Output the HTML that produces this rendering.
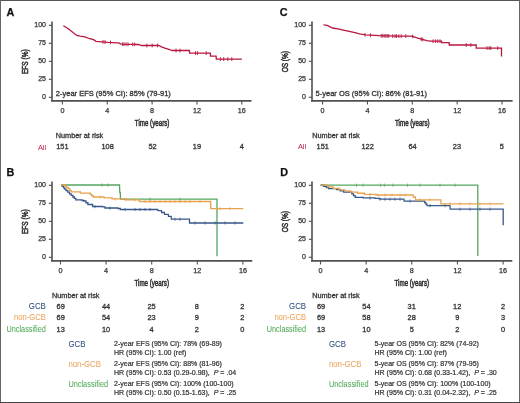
<!DOCTYPE html>
<html><head><meta charset="utf-8"><style>
html,body{margin:0;padding:0;background:#fff;}
body{width:520px;height:403px;overflow:hidden;position:relative;}
svg{position:absolute;left:0;top:0;font-family:"Liberation Sans", sans-serif;will-change:transform;filter:blur(0.25px);}
</style></head><body>
<svg width="520" height="403" viewBox="0 0 520 403">
<rect x="0" y="0" width="520" height="403" fill="#fff"/>
<text x="6.50" y="15.50" font-size="10.8" fill="#111" stroke="#111" stroke-width="0.25" text-anchor="start" font-weight="bold">A</text>
<line x1="52" y1="21.5" x2="52" y2="101.6" stroke="#505050" stroke-width="1.6"/>
<line x1="48.8" y1="25.3" x2="52" y2="25.3" stroke="#505050" stroke-width="1.1"/>
<text x="46.00" y="27.40" font-size="7" fill="#333333" stroke="#333333" stroke-width="0.25" text-anchor="end">100</text>
<line x1="48.8" y1="43.3" x2="52" y2="43.3" stroke="#505050" stroke-width="1.1"/>
<text x="46.00" y="45.40" font-size="7" fill="#333333" stroke="#333333" stroke-width="0.25" text-anchor="end">75</text>
<line x1="48.8" y1="61.3" x2="52" y2="61.3" stroke="#505050" stroke-width="1.1"/>
<text x="46.00" y="63.40" font-size="7" fill="#333333" stroke="#333333" stroke-width="0.25" text-anchor="end">50</text>
<line x1="48.8" y1="79.3" x2="52" y2="79.3" stroke="#505050" stroke-width="1.1"/>
<text x="46.00" y="81.40" font-size="7" fill="#333333" stroke="#333333" stroke-width="0.25" text-anchor="end">25</text>
<line x1="48.8" y1="97.3" x2="52" y2="97.3" stroke="#505050" stroke-width="1.1"/>
<text x="46.00" y="99.40" font-size="7" fill="#333333" stroke="#333333" stroke-width="0.25" text-anchor="end">0</text>
<line x1="51.2" y1="100.9" x2="251.5" y2="100.9" stroke="#505050" stroke-width="1.6"/>
<line x1="62.4" y1="101" x2="62.4" y2="104.5" stroke="#505050" stroke-width="1.1"/>
<text x="62.40" y="113.10" font-size="7.2" fill="#333333" stroke="#333333" stroke-width="0.25" text-anchor="middle">0</text>
<line x1="107.25" y1="101" x2="107.25" y2="104.5" stroke="#505050" stroke-width="1.1"/>
<text x="107.25" y="113.10" font-size="7.2" fill="#333333" stroke="#333333" stroke-width="0.25" text-anchor="middle">4</text>
<line x1="152.1" y1="101" x2="152.1" y2="104.5" stroke="#505050" stroke-width="1.1"/>
<text x="152.10" y="113.10" font-size="7.2" fill="#333333" stroke="#333333" stroke-width="0.25" text-anchor="middle">8</text>
<line x1="196.95000000000002" y1="101" x2="196.95000000000002" y2="104.5" stroke="#505050" stroke-width="1.1"/>
<text x="196.95" y="113.10" font-size="7.2" fill="#333333" stroke="#333333" stroke-width="0.25" text-anchor="middle">12</text>
<line x1="241.8" y1="101" x2="241.8" y2="104.5" stroke="#505050" stroke-width="1.1"/>
<text x="241.80" y="113.10" font-size="7.2" fill="#333333" stroke="#333333" stroke-width="0.25" text-anchor="middle">16</text>
<text transform="translate(152.10,126.10) scale(0.72,1)" font-size="8.6" fill="#333333" stroke="#333333" stroke-width="0.55" text-anchor="middle">Time (years)</text>
<text transform="translate(28.10,61.70) rotate(-90) scale(0.74,1)" font-size="8.8" fill="#333333" stroke="#333333" stroke-width="0.55" text-anchor="middle">EFS (%)</text>
<path d="M63.30,25.80 L67.60,28.20 L70.50,30.60 L76.75,35.40 L80.10,36.20 L84.90,36.80 L89.70,38.75 L93.60,39.70 L96.00,41.30 L108.00,42.30 L118.50,42.80 L121.20,44.10 L138.60,44.50 L141.30,45.50 L158.80,45.50 L161.50,46.80 L164.90,48.20 L169.60,49.50 L172.00,50.50 L189.40,50.50 L189.60,53.10 L210.30,53.10 L210.50,56.10 L216.10,56.10 L216.30,59.10 L241.90,59.10" fill="none" stroke="#b8173f" stroke-width="1.3" stroke-linejoin="miter"/>
<path d="M103.00,39.98v3.8M105.00,40.15v3.8M110.50,40.52v3.8M122.60,42.23v3.8M124.00,42.26v3.8M126.00,42.31v3.8M128.00,42.36v3.8M132.70,42.46v3.8M134.70,42.51v3.8M146.80,43.60v3.8M152.20,43.60v3.8M157.60,43.60v3.8M176.00,48.60v3.8M180.00,48.60v3.8M195.50,51.20v3.8M197.50,51.20v3.8M206.20,51.20v3.8M220.40,57.20v3.8M223.70,57.20v3.8M227.80,57.20v3.8M231.80,57.20v3.8" fill="none" stroke="#b8173f" stroke-width="0.9" opacity="1"/>
<text x="55.80" y="137.60" font-size="7.3" fill="#333333" stroke="#333333" stroke-width="0.3" text-anchor="start">Number at risk</text>
<text x="46.20" y="149.50" font-size="7.4" fill="#c42a4e" stroke="#c42a4e" stroke-width="0.05" text-anchor="end" textLength="8.3" lengthAdjust="spacingAndGlyphs">All</text>
<text x="62.40" y="149.20" font-size="7.4" fill="#333333" stroke="#333333" stroke-width="0.3" text-anchor="middle">151</text>
<text x="107.60" y="149.20" font-size="7.4" fill="#333333" stroke="#333333" stroke-width="0.3" text-anchor="middle">108</text>
<text x="152.50" y="149.20" font-size="7.4" fill="#333333" stroke="#333333" stroke-width="0.3" text-anchor="middle">52</text>
<text x="196.90" y="149.20" font-size="7.4" fill="#333333" stroke="#333333" stroke-width="0.3" text-anchor="middle">19</text>
<text x="241.90" y="149.20" font-size="7.4" fill="#333333" stroke="#333333" stroke-width="0.3" text-anchor="middle">4</text>
<text x="279.80" y="15.50" font-size="10.8" fill="#111" stroke="#111" stroke-width="0.25" text-anchor="start" font-weight="bold">C</text>
<line x1="312" y1="21.5" x2="312" y2="101.6" stroke="#505050" stroke-width="1.6"/>
<line x1="308.8" y1="25.3" x2="312" y2="25.3" stroke="#505050" stroke-width="1.1"/>
<text x="306.00" y="27.40" font-size="7" fill="#333333" stroke="#333333" stroke-width="0.25" text-anchor="end">100</text>
<line x1="308.8" y1="43.3" x2="312" y2="43.3" stroke="#505050" stroke-width="1.1"/>
<text x="306.00" y="45.40" font-size="7" fill="#333333" stroke="#333333" stroke-width="0.25" text-anchor="end">75</text>
<line x1="308.8" y1="61.3" x2="312" y2="61.3" stroke="#505050" stroke-width="1.1"/>
<text x="306.00" y="63.40" font-size="7" fill="#333333" stroke="#333333" stroke-width="0.25" text-anchor="end">50</text>
<line x1="308.8" y1="79.3" x2="312" y2="79.3" stroke="#505050" stroke-width="1.1"/>
<text x="306.00" y="81.40" font-size="7" fill="#333333" stroke="#333333" stroke-width="0.25" text-anchor="end">25</text>
<line x1="308.8" y1="97.3" x2="312" y2="97.3" stroke="#505050" stroke-width="1.1"/>
<text x="306.00" y="99.40" font-size="7" fill="#333333" stroke="#333333" stroke-width="0.25" text-anchor="end">0</text>
<line x1="311.2" y1="100.9" x2="512.6" y2="100.9" stroke="#505050" stroke-width="1.6"/>
<line x1="322.6" y1="101" x2="322.6" y2="104.5" stroke="#505050" stroke-width="1.1"/>
<text x="322.60" y="113.10" font-size="7.2" fill="#333333" stroke="#333333" stroke-width="0.25" text-anchor="middle">0</text>
<line x1="367.45000000000005" y1="101" x2="367.45000000000005" y2="104.5" stroke="#505050" stroke-width="1.1"/>
<text x="367.45" y="113.10" font-size="7.2" fill="#333333" stroke="#333333" stroke-width="0.25" text-anchor="middle">4</text>
<line x1="412.3" y1="101" x2="412.3" y2="104.5" stroke="#505050" stroke-width="1.1"/>
<text x="412.30" y="113.10" font-size="7.2" fill="#333333" stroke="#333333" stroke-width="0.25" text-anchor="middle">8</text>
<line x1="457.15000000000003" y1="101" x2="457.15000000000003" y2="104.5" stroke="#505050" stroke-width="1.1"/>
<text x="457.15" y="113.10" font-size="7.2" fill="#333333" stroke="#333333" stroke-width="0.25" text-anchor="middle">12</text>
<line x1="502.0" y1="101" x2="502.0" y2="104.5" stroke="#505050" stroke-width="1.1"/>
<text x="502.00" y="113.10" font-size="7.2" fill="#333333" stroke="#333333" stroke-width="0.25" text-anchor="middle">16</text>
<text transform="translate(412.30,126.10) scale(0.72,1)" font-size="8.6" fill="#333333" stroke="#333333" stroke-width="0.55" text-anchor="middle">Time (years)</text>
<text transform="translate(288.10,61.70) rotate(-90) scale(0.74,1)" font-size="8.8" fill="#333333" stroke="#333333" stroke-width="0.55" text-anchor="middle">OS (%)</text>
<path d="M323.40,24.90 L327.20,25.40 L332.60,28.00 L338.00,28.80 L345.70,30.60 L355.00,32.60 L359.50,33.80 L365.70,34.90 L379.50,35.70 L398.00,36.20 L411.90,36.10 L417.70,38.20 L427.00,40.70 L430.40,41.20 L441.50,41.20 L441.50,42.70 L449.20,42.70 L449.20,45.00 L476.20,45.00 L476.20,48.10 L501.50,48.10 L501.50,56.50" fill="none" stroke="#b8173f" stroke-width="1.3" stroke-linejoin="miter"/>
<path d="M365.00,32.88v3.8M370.40,33.27v3.8M381.20,33.85v3.8M382.70,33.89v3.8M384.20,33.93v3.8M385.80,33.97v3.8M387.30,34.01v3.8M388.80,34.05v3.8M392.70,34.16v3.8M395.00,34.22v3.8M396.50,34.26v3.8M398.80,34.29v3.8M401.20,34.28v3.8M405.80,34.24v3.8M412.70,34.49v3.8M421.20,37.24v3.8M422.70,37.64v3.8M433.00,39.30v3.8M435.40,39.30v3.8M437.70,39.30v3.8M440.00,39.30v3.8M466.20,43.10v3.8M470.80,43.10v3.8M487.00,46.20v3.8M489.20,46.20v3.8M490.80,46.20v3.8M497.70,46.20v3.8" fill="none" stroke="#b8173f" stroke-width="0.9" opacity="1"/>
<text x="312.30" y="137.60" font-size="7.3" fill="#333333" stroke="#333333" stroke-width="0.3" text-anchor="start">Number at risk</text>
<text x="306.20" y="149.30" font-size="7.4" fill="#c42a4e" stroke="#c42a4e" stroke-width="0.05" text-anchor="end" textLength="8.3" lengthAdjust="spacingAndGlyphs">All</text>
<text x="322.70" y="149.00" font-size="7.4" fill="#333333" stroke="#333333" stroke-width="0.3" text-anchor="middle">151</text>
<text x="367.60" y="149.00" font-size="7.4" fill="#333333" stroke="#333333" stroke-width="0.3" text-anchor="middle">122</text>
<text x="412.50" y="149.00" font-size="7.4" fill="#333333" stroke="#333333" stroke-width="0.3" text-anchor="middle">64</text>
<text x="456.90" y="149.00" font-size="7.4" fill="#333333" stroke="#333333" stroke-width="0.3" text-anchor="middle">23</text>
<text x="501.90" y="149.00" font-size="7.4" fill="#333333" stroke="#333333" stroke-width="0.3" text-anchor="middle">5</text>
<text x="6.50" y="175.50" font-size="10.8" fill="#111" stroke="#111" stroke-width="0.25" text-anchor="start" font-weight="bold">B</text>
<line x1="52" y1="181.5" x2="52" y2="261.6" stroke="#505050" stroke-width="1.6"/>
<line x1="48.8" y1="185.3" x2="52" y2="185.3" stroke="#505050" stroke-width="1.1"/>
<text x="46.00" y="187.40" font-size="7" fill="#333333" stroke="#333333" stroke-width="0.25" text-anchor="end">100</text>
<line x1="48.8" y1="203.3" x2="52" y2="203.3" stroke="#505050" stroke-width="1.1"/>
<text x="46.00" y="205.40" font-size="7" fill="#333333" stroke="#333333" stroke-width="0.25" text-anchor="end">75</text>
<line x1="48.8" y1="221.3" x2="52" y2="221.3" stroke="#505050" stroke-width="1.1"/>
<text x="46.00" y="223.40" font-size="7" fill="#333333" stroke="#333333" stroke-width="0.25" text-anchor="end">50</text>
<line x1="48.8" y1="239.3" x2="52" y2="239.3" stroke="#505050" stroke-width="1.1"/>
<text x="46.00" y="241.40" font-size="7" fill="#333333" stroke="#333333" stroke-width="0.25" text-anchor="end">25</text>
<line x1="48.8" y1="257.3" x2="52" y2="257.3" stroke="#505050" stroke-width="1.1"/>
<text x="46.00" y="259.40" font-size="7" fill="#333333" stroke="#333333" stroke-width="0.25" text-anchor="end">0</text>
<line x1="51.2" y1="260.9" x2="252.3" y2="260.9" stroke="#505050" stroke-width="1.6"/>
<line x1="60.5" y1="261" x2="60.5" y2="264.5" stroke="#505050" stroke-width="1.1"/>
<text x="60.50" y="273.10" font-size="7.2" fill="#333333" stroke="#333333" stroke-width="0.25" text-anchor="middle">0</text>
<line x1="106.1" y1="261" x2="106.1" y2="264.5" stroke="#505050" stroke-width="1.1"/>
<text x="106.10" y="273.10" font-size="7.2" fill="#333333" stroke="#333333" stroke-width="0.25" text-anchor="middle">4</text>
<line x1="151.7" y1="261" x2="151.7" y2="264.5" stroke="#505050" stroke-width="1.1"/>
<text x="151.70" y="273.10" font-size="7.2" fill="#333333" stroke="#333333" stroke-width="0.25" text-anchor="middle">8</text>
<line x1="197.3" y1="261" x2="197.3" y2="264.5" stroke="#505050" stroke-width="1.1"/>
<text x="197.30" y="273.10" font-size="7.2" fill="#333333" stroke="#333333" stroke-width="0.25" text-anchor="middle">12</text>
<line x1="242.9" y1="261" x2="242.9" y2="264.5" stroke="#505050" stroke-width="1.1"/>
<text x="242.90" y="273.10" font-size="7.2" fill="#333333" stroke="#333333" stroke-width="0.25" text-anchor="middle">16</text>
<text transform="translate(151.70,286.10) scale(0.72,1)" font-size="8.6" fill="#333333" stroke="#333333" stroke-width="0.55" text-anchor="middle">Time (years)</text>
<text transform="translate(28.10,221.70) rotate(-90) scale(0.74,1)" font-size="8.8" fill="#333333" stroke="#333333" stroke-width="0.55" text-anchor="middle">EFS (%)</text>
<path d="M61.00,185.00 L119.50,185.00 L119.80,192.60 L120.30,192.60 L120.50,199.20 L217.00,199.20 L217.00,256.20" fill="none" stroke="#55a65e" stroke-width="1.3" stroke-linejoin="miter"/>
<path d="M102.00,183.40v3.2M108.00,183.40v3.2M150.00,197.60v3.2M180.00,197.60v3.2" fill="none" stroke="#55a65e" stroke-width="0.8" opacity="0.9"/>
<path d="M61.00,185.00 L62.25,185.00 L62.25,186.40 L63.50,186.40 L63.50,187.80 L64.75,187.80 L64.75,189.20 L66.00,189.20 L66.00,190.60 L67.72,190.60 L67.72,192.20 L69.45,192.20 L69.45,193.80 L71.18,193.80 L71.18,195.40 L72.90,195.40 L72.90,197.00 L74.35,197.00 L74.35,198.40 L75.80,198.40 L75.80,199.80 L82.10,199.80 L82.10,200.50 L84.00,200.50 L84.00,201.00 L85.95,201.00 L85.95,202.75 L87.90,202.75 L87.90,204.50 L92.60,204.50 L92.60,206.50 L102.60,206.50 L102.60,206.90 L105.00,206.90 L105.00,208.00 L118.00,208.00 L118.00,208.50 L120.30,208.50 L120.30,209.50 L157.70,209.50 L158.00,210.60 L161.50,210.60 L161.70,212.50 L164.40,212.50 L164.60,214.40 L168.30,214.40 L168.50,216.30 L171.20,216.30 L171.40,219.20 L189.40,219.20 L189.60,223.00 L243.30,223.00" fill="none" stroke="#375789" stroke-width="1.3" stroke-linejoin="miter"/>
<path d="M95.00,205.00v3.2M110.00,206.59v3.2M125.00,207.90v3.2M135.00,207.90v3.2M140.00,207.90v3.2M145.00,207.90v3.2M150.00,207.90v3.2M175.00,217.60v3.2M180.00,217.60v3.2M195.00,221.40v3.2M205.00,221.40v3.2M215.00,221.40v3.2M225.00,221.40v3.2M235.00,221.40v3.2" fill="none" stroke="#375789" stroke-width="0.8" opacity="0.9"/>
<path d="M61.00,185.00 L63.80,185.00 L65.30,185.00 L65.30,186.30 L66.80,186.30 L66.80,187.60 L68.30,187.60 L68.30,188.90 L69.75,188.90 L69.75,190.35 L71.20,190.35 L71.20,191.80 L79.30,191.80 L80.40,191.80 L80.40,193.20 L88.50,193.20 L90.20,193.20 L90.20,194.30 L91.65,194.30 L91.65,195.65 L93.10,195.65 L93.10,197.00 L102.90,197.00 L104.10,197.00 L104.10,197.90 L111.60,197.90 L112.10,197.90 L112.10,198.90 L126.00,198.90 L126.00,199.80 L139.20,199.90 L139.40,201.50 L210.60,201.50 L210.80,208.70 L243.30,208.70" fill="none" stroke="#e8a24e" stroke-width="1.3" stroke-linejoin="miter"/>
<path d="M100.00,195.40v3.2M115.00,197.49v3.2M125.00,198.14v3.2M135.00,198.27v3.2M145.00,199.90v3.2M150.00,199.90v3.2M155.00,199.90v3.2M160.00,199.90v3.2M165.00,199.90v3.2M170.00,199.90v3.2M175.00,199.90v3.2M180.00,199.90v3.2M185.00,199.90v3.2M190.00,199.90v3.2M200.00,199.90v3.2M220.00,207.10v3.2M230.00,207.10v3.2" fill="none" stroke="#e8a24e" stroke-width="0.8" opacity="0.9"/>
<text x="52.00" y="297.60" font-size="7.3" fill="#333333" stroke="#333333" stroke-width="0.3" text-anchor="start">Number at risk</text>
<text x="45.80" y="309.30" font-size="8.2" fill="#30507f" stroke="#30507f" stroke-width="0.05" text-anchor="end" textLength="17" lengthAdjust="spacingAndGlyphs">GCB</text>
<text x="60.70" y="309.30" font-size="7.4" fill="#333333" stroke="#333333" stroke-width="0.3" text-anchor="middle">69</text>
<text x="106.00" y="309.30" font-size="7.4" fill="#333333" stroke="#333333" stroke-width="0.3" text-anchor="middle">44</text>
<text x="151.60" y="309.30" font-size="7.4" fill="#333333" stroke="#333333" stroke-width="0.3" text-anchor="middle">25</text>
<text x="196.70" y="309.30" font-size="7.4" fill="#333333" stroke="#333333" stroke-width="0.3" text-anchor="middle">8</text>
<text x="242.30" y="309.30" font-size="7.4" fill="#333333" stroke="#333333" stroke-width="0.3" text-anchor="middle">2</text>
<text x="45.80" y="320.40" font-size="8.2" fill="#eba55e" stroke="#eba55e" stroke-width="0.05" text-anchor="end" textLength="31.7" lengthAdjust="spacingAndGlyphs">non-GCB</text>
<text x="60.70" y="320.40" font-size="7.4" fill="#333333" stroke="#333333" stroke-width="0.3" text-anchor="middle">69</text>
<text x="106.00" y="320.40" font-size="7.4" fill="#333333" stroke="#333333" stroke-width="0.3" text-anchor="middle">54</text>
<text x="151.60" y="320.40" font-size="7.4" fill="#333333" stroke="#333333" stroke-width="0.3" text-anchor="middle">23</text>
<text x="196.70" y="320.40" font-size="7.4" fill="#333333" stroke="#333333" stroke-width="0.3" text-anchor="middle">9</text>
<text x="242.30" y="320.40" font-size="7.4" fill="#333333" stroke="#333333" stroke-width="0.3" text-anchor="middle">2</text>
<text x="45.80" y="331.50" font-size="8.2" fill="#4fa957" stroke="#4fa957" stroke-width="0.05" text-anchor="end" textLength="39.3" lengthAdjust="spacingAndGlyphs">Unclassified</text>
<text x="60.70" y="331.50" font-size="7.4" fill="#333333" stroke="#333333" stroke-width="0.3" text-anchor="middle">13</text>
<text x="106.00" y="331.50" font-size="7.4" fill="#333333" stroke="#333333" stroke-width="0.3" text-anchor="middle">10</text>
<text x="151.60" y="331.50" font-size="7.4" fill="#333333" stroke="#333333" stroke-width="0.3" text-anchor="middle">4</text>
<text x="196.70" y="331.50" font-size="7.4" fill="#333333" stroke="#333333" stroke-width="0.3" text-anchor="middle">2</text>
<text x="242.30" y="331.50" font-size="7.4" fill="#333333" stroke="#333333" stroke-width="0.3" text-anchor="middle">0</text>
<text x="280.20" y="175.50" font-size="10.8" fill="#111" stroke="#111" stroke-width="0.25" text-anchor="start" font-weight="bold">D</text>
<line x1="312" y1="181.5" x2="312" y2="261.6" stroke="#505050" stroke-width="1.6"/>
<line x1="308.8" y1="185.3" x2="312" y2="185.3" stroke="#505050" stroke-width="1.1"/>
<text x="306.00" y="187.40" font-size="7" fill="#333333" stroke="#333333" stroke-width="0.25" text-anchor="end">100</text>
<line x1="308.8" y1="203.3" x2="312" y2="203.3" stroke="#505050" stroke-width="1.1"/>
<text x="306.00" y="205.40" font-size="7" fill="#333333" stroke="#333333" stroke-width="0.25" text-anchor="end">75</text>
<line x1="308.8" y1="221.3" x2="312" y2="221.3" stroke="#505050" stroke-width="1.1"/>
<text x="306.00" y="223.40" font-size="7" fill="#333333" stroke="#333333" stroke-width="0.25" text-anchor="end">50</text>
<line x1="308.8" y1="239.3" x2="312" y2="239.3" stroke="#505050" stroke-width="1.1"/>
<text x="306.00" y="241.40" font-size="7" fill="#333333" stroke="#333333" stroke-width="0.25" text-anchor="end">25</text>
<line x1="308.8" y1="257.3" x2="312" y2="257.3" stroke="#505050" stroke-width="1.1"/>
<text x="306.00" y="259.40" font-size="7" fill="#333333" stroke="#333333" stroke-width="0.25" text-anchor="end">0</text>
<line x1="311.2" y1="260.9" x2="512.3" y2="260.9" stroke="#505050" stroke-width="1.6"/>
<line x1="320.5" y1="261" x2="320.5" y2="264.5" stroke="#505050" stroke-width="1.1"/>
<text x="320.50" y="273.10" font-size="7.2" fill="#333333" stroke="#333333" stroke-width="0.25" text-anchor="middle">0</text>
<line x1="366.15" y1="261" x2="366.15" y2="264.5" stroke="#505050" stroke-width="1.1"/>
<text x="366.15" y="273.10" font-size="7.2" fill="#333333" stroke="#333333" stroke-width="0.25" text-anchor="middle">4</text>
<line x1="411.8" y1="261" x2="411.8" y2="264.5" stroke="#505050" stroke-width="1.1"/>
<text x="411.80" y="273.10" font-size="7.2" fill="#333333" stroke="#333333" stroke-width="0.25" text-anchor="middle">8</text>
<line x1="457.45" y1="261" x2="457.45" y2="264.5" stroke="#505050" stroke-width="1.1"/>
<text x="457.45" y="273.10" font-size="7.2" fill="#333333" stroke="#333333" stroke-width="0.25" text-anchor="middle">12</text>
<line x1="503.1" y1="261" x2="503.1" y2="264.5" stroke="#505050" stroke-width="1.1"/>
<text x="503.10" y="273.10" font-size="7.2" fill="#333333" stroke="#333333" stroke-width="0.25" text-anchor="middle">16</text>
<text transform="translate(411.80,286.10) scale(0.72,1)" font-size="8.6" fill="#333333" stroke="#333333" stroke-width="0.55" text-anchor="middle">Time (years)</text>
<text transform="translate(288.10,221.70) rotate(-90) scale(0.74,1)" font-size="8.8" fill="#333333" stroke="#333333" stroke-width="0.55" text-anchor="middle">OS (%)</text>
<path d="M320.60,185.20 L477.80,185.20 L477.80,256.00" fill="none" stroke="#55a65e" stroke-width="1.3" stroke-linejoin="miter"/>
<path d="M356.50,183.60v3.2M363.00,183.60v3.2M380.60,183.60v3.2M384.40,183.60v3.2M393.00,183.60v3.2M407.50,183.60v3.2M420.00,183.60v3.2M440.00,183.60v3.2M455.00,183.60v3.2" fill="none" stroke="#55a65e" stroke-width="0.8" opacity="0.9"/>
<path d="M320.60,185.20 L323.50,185.20 L323.50,186.35 L326.40,186.35 L326.40,187.50 L328.70,187.50 L328.70,188.70 L336.80,188.70 L336.80,189.50 L340.25,189.50 L340.25,190.80 L343.70,190.80 L343.70,192.10 L351.80,192.10 L351.80,193.80 L353.50,193.80 L353.50,195.55 L355.20,195.55 L355.20,197.30 L362.10,197.30 L363.30,197.30 L363.30,197.90 L374.90,197.90 L374.90,198.30 L379.50,198.30 L379.50,199.20 L403.90,199.20 L404.10,201.10 L423.50,201.10 L424.67,201.10 L424.67,202.63 L425.83,202.63 L425.83,204.17 L427.00,204.17 L427.00,205.70 L450.00,205.70 L450.20,209.20 L503.20,209.20 L503.20,225.30" fill="none" stroke="#375789" stroke-width="1.3" stroke-linejoin="miter"/>
<path d="M370.00,196.53v3.2M380.00,197.60v3.2M385.00,197.60v3.2M390.00,197.60v3.2M395.00,197.60v3.2M400.00,197.60v3.2M410.00,199.50v3.2M430.00,204.10v3.2M445.00,204.10v3.2M460.00,207.60v3.2M470.00,207.60v3.2M480.00,207.60v3.2M490.00,207.60v3.2" fill="none" stroke="#375789" stroke-width="0.8" opacity="0.9"/>
<path d="M320.60,185.20 L327.50,185.20 L327.50,186.90 L333.25,186.90 L333.25,188.35 L339.00,188.35 L339.00,189.80 L344.80,189.80 L344.80,190.95 L350.60,190.95 L350.60,192.10 L357.50,192.10 L357.50,193.25 L364.40,193.25 L364.40,194.40 L376.00,194.40 L376.00,195.00 L413.10,195.00 L413.30,197.00 L415.40,197.00 L415.60,199.90 L440.80,199.90 L441.00,203.90 L503.60,203.90" fill="none" stroke="#e8a24e" stroke-width="1.3" stroke-linejoin="miter"/>
<path d="M370.00,193.09v3.2M378.00,193.40v3.2M385.00,193.40v3.2M392.00,193.40v3.2M400.00,193.40v3.2M405.00,193.40v3.2M420.00,198.30v3.2M430.00,198.30v3.2M450.00,202.30v3.2M460.00,202.30v3.2M470.00,202.30v3.2M480.00,202.30v3.2M490.00,202.30v3.2" fill="none" stroke="#e8a24e" stroke-width="0.8" opacity="0.9"/>
<text x="312.20" y="297.60" font-size="7.3" fill="#333333" stroke="#333333" stroke-width="0.3" text-anchor="start">Number at risk</text>
<text x="306.10" y="309.30" font-size="8.2" fill="#30507f" stroke="#30507f" stroke-width="0.05" text-anchor="end" textLength="17" lengthAdjust="spacingAndGlyphs">GCB</text>
<text x="321.10" y="309.30" font-size="7.4" fill="#333333" stroke="#333333" stroke-width="0.3" text-anchor="middle">69</text>
<text x="366.40" y="309.30" font-size="7.4" fill="#333333" stroke="#333333" stroke-width="0.3" text-anchor="middle">54</text>
<text x="411.70" y="309.30" font-size="7.4" fill="#333333" stroke="#333333" stroke-width="0.3" text-anchor="middle">31</text>
<text x="457.20" y="309.30" font-size="7.4" fill="#333333" stroke="#333333" stroke-width="0.3" text-anchor="middle">12</text>
<text x="503.10" y="309.30" font-size="7.4" fill="#333333" stroke="#333333" stroke-width="0.3" text-anchor="middle">2</text>
<text x="306.10" y="320.40" font-size="8.2" fill="#eba55e" stroke="#eba55e" stroke-width="0.05" text-anchor="end" textLength="31.7" lengthAdjust="spacingAndGlyphs">non-GCB</text>
<text x="321.10" y="320.40" font-size="7.4" fill="#333333" stroke="#333333" stroke-width="0.3" text-anchor="middle">69</text>
<text x="366.40" y="320.40" font-size="7.4" fill="#333333" stroke="#333333" stroke-width="0.3" text-anchor="middle">58</text>
<text x="411.70" y="320.40" font-size="7.4" fill="#333333" stroke="#333333" stroke-width="0.3" text-anchor="middle">28</text>
<text x="457.20" y="320.40" font-size="7.4" fill="#333333" stroke="#333333" stroke-width="0.3" text-anchor="middle">9</text>
<text x="503.10" y="320.40" font-size="7.4" fill="#333333" stroke="#333333" stroke-width="0.3" text-anchor="middle">3</text>
<text x="306.10" y="331.50" font-size="8.2" fill="#4fa957" stroke="#4fa957" stroke-width="0.05" text-anchor="end" textLength="39.3" lengthAdjust="spacingAndGlyphs">Unclassified</text>
<text x="321.10" y="331.50" font-size="7.4" fill="#333333" stroke="#333333" stroke-width="0.3" text-anchor="middle">13</text>
<text x="366.40" y="331.50" font-size="7.4" fill="#333333" stroke="#333333" stroke-width="0.3" text-anchor="middle">10</text>
<text x="411.70" y="331.50" font-size="7.4" fill="#333333" stroke="#333333" stroke-width="0.3" text-anchor="middle">5</text>
<text x="457.20" y="331.50" font-size="7.4" fill="#333333" stroke="#333333" stroke-width="0.3" text-anchor="middle">2</text>
<text x="503.10" y="331.50" font-size="7.4" fill="#333333" stroke="#333333" stroke-width="0.3" text-anchor="middle">0</text>
<text x="55.80" y="95.90" font-size="7.5" fill="#333333" stroke="#333333" stroke-width="0.3" text-anchor="start">2-year EFS (95% CI): 85% (79-91)</text>
<text x="315.60" y="95.90" font-size="7.5" fill="#333333" stroke="#333333" stroke-width="0.3" text-anchor="start">5-year OS (95% CI): 86% (81-91)</text>
<text x="68.40" y="347.10" font-size="8.2" fill="#30507f" stroke="#30507f" stroke-width="0.05" text-anchor="start" textLength="17" lengthAdjust="spacingAndGlyphs">GCB</text>
<text transform="translate(114.00,345.80) scale(0.94,1)" font-size="7.5" fill="#333333" stroke="#333333" stroke-width="0.22" text-anchor="start">2-year EFS (95% CI): 78% (69-89)</text>
<text transform="translate(114.00,354.60) scale(0.94,1)" font-size="7.5" fill="#333333" stroke="#333333" stroke-width="0.22" text-anchor="start">HR (95% CI): 1.00 (ref)</text>
<text x="68.40" y="367.10" font-size="8.2" fill="#eba55e" stroke="#eba55e" stroke-width="0.05" text-anchor="start" textLength="32.5" lengthAdjust="spacingAndGlyphs">non-GCB</text>
<text transform="translate(114.00,365.80) scale(0.94,1)" font-size="7.5" fill="#333333" stroke="#333333" stroke-width="0.22" text-anchor="start">2-year EFS (95% CI): 88% (81-96)</text>
<text transform="translate(114.00,374.60) scale(0.94,1)" font-size="7.5" fill="#333333" stroke="#333333" stroke-width="0.22" text-anchor="start">HR (95% CI): 0.53 (0.29-0.98), <tspan dx="2.0" font-style="italic">P</tspan><tspan dx="-0.2"> =</tspan><tspan dx="0.3"> </tspan>.04</text>
<text x="68.40" y="387.10" font-size="8.2" fill="#4fa957" stroke="#4fa957" stroke-width="0.05" text-anchor="start" textLength="39.7" lengthAdjust="spacingAndGlyphs">Unclassified</text>
<text transform="translate(114.00,385.80) scale(0.94,1)" font-size="7.5" fill="#333333" stroke="#333333" stroke-width="0.22" text-anchor="start">2-year EFS (95% CI): 100% (100-100)</text>
<text transform="translate(114.00,394.60) scale(0.94,1)" font-size="7.5" fill="#333333" stroke="#333333" stroke-width="0.22" text-anchor="start">HR (95% CI): 0.50 (0.15-1.63), <tspan dx="2.0" font-style="italic">P</tspan><tspan dx="-0.2"> =</tspan><tspan dx="0.3"> </tspan>.25</text>
<text x="328.90" y="347.10" font-size="8.2" fill="#30507f" stroke="#30507f" stroke-width="0.05" text-anchor="start" textLength="17" lengthAdjust="spacingAndGlyphs">GCB</text>
<text transform="translate(374.50,345.80) scale(0.94,1)" font-size="7.5" fill="#333333" stroke="#333333" stroke-width="0.22" text-anchor="start">5-year OS (95% CI): 82% (74-92)</text>
<text transform="translate(374.50,354.60) scale(0.94,1)" font-size="7.5" fill="#333333" stroke="#333333" stroke-width="0.22" text-anchor="start">HR (95% CI): 1.00 (ref)</text>
<text x="328.90" y="367.10" font-size="8.2" fill="#eba55e" stroke="#eba55e" stroke-width="0.05" text-anchor="start" textLength="32.5" lengthAdjust="spacingAndGlyphs">non-GCB</text>
<text transform="translate(374.50,365.80) scale(0.94,1)" font-size="7.5" fill="#333333" stroke="#333333" stroke-width="0.22" text-anchor="start">5-year OS (95% CI): 87% (79-95)</text>
<text transform="translate(374.50,374.60) scale(0.94,1)" font-size="7.5" fill="#333333" stroke="#333333" stroke-width="0.22" text-anchor="start">HR (95% CI): 0.68 (0.33-1.42), <tspan dx="2.0" font-style="italic">P</tspan><tspan dx="-0.2"> =</tspan><tspan dx="0.3"> </tspan>.30</text>
<text x="328.90" y="387.10" font-size="8.2" fill="#4fa957" stroke="#4fa957" stroke-width="0.05" text-anchor="start" textLength="39.7" lengthAdjust="spacingAndGlyphs">Unclassified</text>
<text transform="translate(374.50,385.80) scale(0.94,1)" font-size="7.5" fill="#333333" stroke="#333333" stroke-width="0.22" text-anchor="start">5-year OS (95% CI): 100% (100-100)</text>
<text transform="translate(374.50,394.60) scale(0.94,1)" font-size="7.5" fill="#333333" stroke="#333333" stroke-width="0.22" text-anchor="start">HR (95% CI): 0.31 (0.04-2.32), <tspan dx="2.0" font-style="italic">P</tspan><tspan dx="-0.2"> =</tspan><tspan dx="0.3"> </tspan>.25</text>
<rect x="0" y="0" width="520" height="1" fill="#555"/><rect x="0" y="0" width="1" height="403" fill="#666"/><rect x="519" y="0" width="1" height="403" fill="#666"/><rect x="0" y="402" width="520" height="1" fill="#444"/>
</svg>
</body></html>
